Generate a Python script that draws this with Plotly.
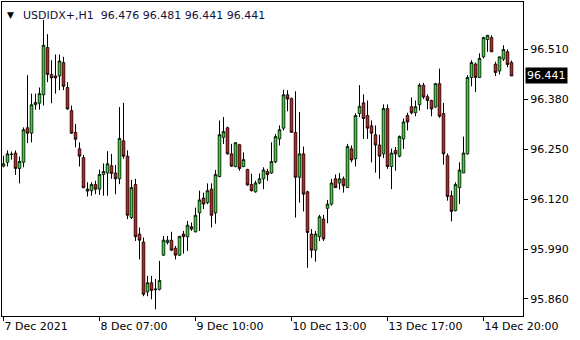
import plotly.graph_objects as go

# ---- data (USDIDX+, H1) ----
opens = [96.206, 96.216, 96.236, 96.240, 96.200, 96.216, 96.306, 96.292, 96.366, 96.370,
         96.392, 96.515, 96.445, 96.441, 96.441, 96.476, 96.411, 96.351, 96.294, 96.251,
         96.228, 96.146, 96.142, 96.158, 96.146, 96.184, 96.188, 96.207, 96.188, 96.173,
         96.272, 96.232, 96.072, 96.158, 96.029, 96.008, 95.878, 95.902, 95.886, 95.885,
         95.974, 96.007, 96.013, 95.992, 95.974, 96.029, 96.022, 96.048, 96.035, 96.084,
         96.123, 96.111, 96.146, 96.084, 96.179, 96.281, 96.306, 96.238, 96.205, 96.262,
         96.205, 96.197, 96.158, 96.139, 96.162, 96.173, 96.192, 96.188, 96.217, 96.277,
         96.305, 96.392, 96.382, 96.294, 96.177, 96.238, 96.139, 96.029, 95.987, 96.022,
         96.068, 96.096, 96.107, 96.173, 96.162, 96.173, 96.150, 96.251, 96.225, 96.343,
         96.371, 96.338, 96.311, 96.288, 96.261, 96.238, 96.356, 96.205, 96.247, 96.232,
         96.277, 96.338, 96.361, 96.345, 96.366, 96.417, 96.387, 96.377, 96.360, 96.421,
         96.343, 96.233, 96.129, 96.090, 96.150, 96.188, 96.238, 96.437, 96.472, 96.437,
         96.491, 96.536, 96.541, 96.472, 96.454, 96.485, 96.504, 96.476]
highs = [96.233, 96.247, 96.244, 96.247, 96.231, 96.307, 96.443, 96.395, 96.395, 96.411,
         96.587, 96.550, 96.482, 96.497, 96.497, 96.491, 96.425, 96.364, 96.316, 96.268,
         96.235, 96.164, 96.164, 96.168, 96.197, 96.213, 96.245, 96.238, 96.209, 96.360,
         96.371, 96.247, 96.170, 96.173, 96.046, 96.020, 95.920, 95.920, 95.912, 95.959,
         96.024, 96.024, 96.035, 95.998, 96.024, 96.037, 96.063, 96.059, 96.098, 96.142,
         96.137, 96.161, 96.161, 96.196, 96.325, 96.334, 96.309, 96.264, 96.268, 96.264,
         96.242, 96.199, 96.186, 96.168, 96.187, 96.203, 96.199, 96.268, 96.290, 96.312,
         96.405, 96.404, 96.385, 96.401, 96.347, 96.257, 96.142, 96.042, 96.037, 96.079,
         96.079, 96.118, 96.173, 96.184, 96.188, 96.179, 96.264, 96.260, 96.344, 96.417,
         96.393, 96.377, 96.325, 96.312, 96.288, 96.367, 96.367, 96.252, 96.256, 96.286,
         96.330, 96.345, 96.385, 96.377, 96.422, 96.423, 96.393, 96.379, 96.423, 96.460,
         96.371, 96.239, 96.142, 96.164, 96.216, 96.283, 96.443, 96.482, 96.476, 96.500,
         96.543, 96.547, 96.547, 96.478, 96.491, 96.521, 96.510, 96.481]
lows = [96.203, 96.205, 96.223, 96.183, 96.161, 96.203, 96.266, 96.268, 96.353, 96.353,
        96.364, 96.425, 96.370, 96.395, 96.404, 96.404, 96.353, 96.290, 96.255, 96.205,
        96.148, 96.127, 96.129, 96.133, 96.131, 96.129, 96.129, 96.173, 96.133, 96.159,
        96.225, 96.068, 96.068, 96.011, 95.963, 95.867, 95.867, 95.859, 95.833, 95.882,
        95.972, 96.002, 95.985, 95.963, 95.972, 95.978, 95.985, 96.037, 96.033, 96.037,
        96.094, 96.107, 96.046, 96.056, 96.177, 96.264, 96.236, 96.204, 96.203, 96.194,
        96.203, 96.155, 96.140, 96.137, 96.159, 96.146, 96.168, 96.186, 96.214, 96.260,
        96.299, 96.349, 96.293, 96.072, 96.111, 96.088, 95.941, 95.967, 95.957, 96.011,
        96.011, 96.057, 96.103, 96.149, 96.145, 96.137, 96.149, 96.216, 96.205, 96.334,
        96.277, 96.277, 96.216, 96.189, 96.173, 96.227, 96.199, 96.146, 96.194, 96.229,
        96.251, 96.299, 96.341, 96.336, 96.351, 96.381, 96.354, 96.336, 96.358, 96.332,
        96.210, 96.116, 96.062, 96.088, 96.107, 96.188, 96.236, 96.414, 96.399, 96.436,
        96.487, 96.504, 96.504, 96.441, 96.445, 96.480, 96.464, 96.441]
closes = [96.212, 96.238, 96.237, 96.200, 96.218, 96.301, 96.292, 96.366, 96.372, 96.395,
          96.521, 96.445, 96.436, 96.436, 96.480, 96.414, 96.355, 96.292, 96.276, 96.232,
          96.150, 96.141, 96.158, 96.146, 96.184, 96.192, 96.212, 96.187, 96.173, 96.278,
          96.232, 96.078, 96.150, 96.022, 96.013, 95.872, 95.902, 95.882, 95.884, 95.908,
          96.013, 96.013, 95.987, 95.974, 96.023, 96.022, 96.052, 96.042, 96.078, 96.118,
          96.107, 96.142, 96.078, 96.184, 96.288, 96.296, 96.238, 96.206, 96.267, 96.200,
          96.223, 96.157, 96.142, 96.162, 96.173, 96.196, 96.184, 96.218, 96.283, 96.301,
          96.392, 96.381, 96.294, 96.177, 96.238, 96.133, 96.033, 95.987, 96.029, 96.074,
          96.016, 96.107, 96.162, 96.150, 96.173, 96.155, 96.257, 96.222, 96.338, 96.362,
          96.330, 96.305, 96.292, 96.261, 96.232, 96.356, 96.205, 96.240, 96.238, 96.283,
          96.321, 96.321, 96.345, 96.361, 96.417, 96.386, 96.377, 96.355, 96.421, 96.336,
          96.238, 96.127, 96.088, 96.158, 96.196, 96.240, 96.437, 96.476, 96.437, 96.487,
          96.541, 96.547, 96.504, 96.450, 96.491, 96.510, 96.471, 96.441]

tick_bars = [0, 24, 48, 72, 96, 120]
tick_labels = ["7 Dec 2021", "8 Dec 07:00", "9 Dec 10:00", "10 Dec 13:00",
               "13 Dec 17:00", "14 Dec 20:00"]
price_ticks = [95.860, 95.990, 96.120, 96.250, 96.380, 96.510]
symbol = "USDIDX+,H1"

UP_COLOR = "#22e622"
DOWN_COLOR = "#e01414"
FONT = "DejaVu Sans"

bars = list(range(len(closes)))
last_o, last_h, last_l, last_c = opens[-1], highs[-1], lows[-1], closes[-1]

body_top = [max(o, c) for o, c in zip(opens, closes)]
body_base = [min(o, c) for o, c in zip(opens, closes)]

# wicks: upper (high -> body top) and lower (body bottom -> low) segments
wick_x, wick_y = [], []
for i in bars:
    wick_x += [i, i, None, i, i, None]
    wick_y += [highs[i], body_top[i], None, body_base[i], lows[i], None]

fig = go.Figure()
# candle bodies (whiskers drawn separately so they stay crisp and black)
fig.add_trace(go.Candlestick(
    x=bars, open=opens, close=closes, high=body_top, low=body_base,
    increasing=dict(line=dict(color="black", width=0.8), fillcolor=UP_COLOR),
    decreasing=dict(line=dict(color="black", width=0.8), fillcolor=DOWN_COLOR),
    whiskerwidth=0, showlegend=False, hoverinfo="skip",
))
fig.add_trace(go.Scatter(x=wick_x, y=wick_y, mode="lines",
                         line=dict(color="black", width=1),
                         showlegend=False, hoverinfo="skip"))

fig.update_layout(
    width=580, height=340,
    margin=dict(l=2, r=57, t=2, b=24),
    paper_bgcolor="white", plot_bgcolor="white",
    boxgap=0.35, boxgroupgap=0,
    font=dict(family=FONT, size=11, color="black"),
    xaxis=dict(
        range=[-0.375, 129.875], rangeslider=dict(visible=False),
        showgrid=False, zeroline=False,
        showline=True, linecolor="black", linewidth=1, mirror=True,
        tickmode="array", tickvals=tick_bars, ticktext=tick_labels,
        ticks="outside", ticklen=4, tickcolor="black",
        ticklabelposition="outside right",
        tickfont=dict(family=FONT, size=11, color="black"),
    ),
    yaxis=dict(
        range=[95.8154, 96.6338], side="right",
        showgrid=False, zeroline=False,
        showline=True, linecolor="black", linewidth=1, mirror=True,
        tickmode="array", tickvals=price_ticks, tickformat=".3f",
        ticks="outside", ticklen=4, tickcolor="black",
        tickfont=dict(family=FONT, size=11, color="black"),
    ),
)

# header
fig.add_annotation(xref="paper", yref="paper", x=0, y=1, xanchor="left", yanchor="top",
                   xshift=3, yshift=-6, text="▼", showarrow=False,
                   font=dict(family=FONT, size=9, color="black"))
fig.add_annotation(xref="paper", yref="paper", x=0, y=1, xanchor="left", yanchor="top",
                   xshift=19, yshift=-5, showarrow=False,
                   text=f"{symbol}  {last_o:.3f} {last_h:.3f} {last_l:.3f} {last_c:.3f}",
                   font=dict(family=FONT, size=11, color="#10103a"))
# current price label
fig.add_annotation(xref="paper", yref="y", x=1, y=last_c, xanchor="left", yanchor="middle",
                   xshift=2, showarrow=False, text=f"{last_c:.3f}",
                   bgcolor="black", borderpad=1,
                   font=dict(family=FONT, size=11, color="white"))

fig.write_html("out.html")
